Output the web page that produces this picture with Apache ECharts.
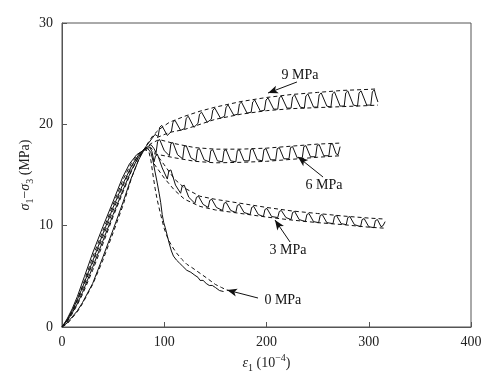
<!DOCTYPE html>
<html>
<head>
<meta charset="utf-8">
<script src="https://cdn.jsdelivr.net/npm/echarts@6/dist/echarts.min.js"></script>
<style>html,body{margin:0;padding:0;background:#fff}#c{width:500px;height:389px}</style>
</head>
<body>
<div id="c"></div>
<script>
// ---- axis ticks ----
const xTicks = [0, 100, 200, 300, 400];
const yTicks = [0, 10, 20, 30];

// ---- 0 MPa ----
const solid0 = [[0,0],[5,0.8],[10,1.8],[15,3.0],[22,5.0],[30,7.3],[40,9.9],[50,12.4],[59,14.7],[66,16.1],[73,17.0],[79,17.4],[84,17.6],
  [87,17.2],[89,16.4],[91,15.3],[93,14.3],[95,13.2],[96.5,12.3],[98,11.1],[99.5,10.3],[101,9.8],[103,9.0],[105,8.2],[107,7.5],[109,7.0],[112,6.6],
  [115,6.3],[118,6.0],[122,5.6],[126,5.4],[130,5.1],[133,4.9],[135,4.6],[138,4.6],[141,4.3],[144,4.1],[147,4.1],[150,3.9],[154,3.6],[158,3.5]];
const dash0 = [[0,0],[5,0.7],[10,1.6],[15,2.7],[22,4.6],[30,6.9],[40,9.5],[50,12.1],[60,14.6],[68,16.2],[75,17.1],[81,17.5],[85,17.3],
  [87,16.4],[89,15.0],[91,13.7],[93,12.6],[96,11.3],[100,9.7],[104,8.6],[108,7.9],[112,7.3],[117,6.7],[122,6.2],[128,5.8],[135,5.3],[142,4.8],[150,4.2],[156,3.9],[162,3.6]];

// ---- 3 MPa ----
const solid3 = [[0,0],[5,0.7],[10,1.6],[15,2.7],[20,3.9],[30,6.5],[40,9.2],[50,11.8],[60,14.2],[68,15.9],[75,17.0],[81,17.6],[86,17.7],
  [88,17.3],[90,16.3],[91.5,16.9],[93.5,17.0],[98,15.7],[103,14.6],[104.5,15.4],[106.5,15.5],[111,14.0],[116,13.2],
  [117.5,13.9],[119.5,14.0],[124,12.8],[130,12.2],[131.5,12.8],[133.5,12.9],[138,12.1],[143,11.8],
  [144.5,12.5],[146.5,12.6],[151,11.8],[157,11.5],[158.5,12.2],[160.5,12.3],[165,11.5],[170,11.3],
  [171.5,12.0],[173.5,12.1],[178,11.3],[184,11.1],[185.5,11.8],[187.5,11.9],[192,11.1],[197,10.9],
  [198.5,11.6],[200.5,11.7],[205,10.9],[211,10.8],[212.5,11.4],[214.5,11.5],[219,10.8],[224,10.6],
  [225.5,11.3],[227.5,11.4],[232,10.6],[238,10.4],[239.5,11.1],[241.5,11.2],[246,10.4],[251,10.3],
  [252.5,11.0],[254.5,11.1],[259,10.3],[265,10.2],[266.5,10.9],[268.5,11.0],[273,10.2],[278,10.1],
  [279.5,10.8],[281.5,10.9],[286,10.1],[292,9.9],[293.5,10.6],[295.5,10.7],[300,9.9],[305,9.8],
  [306.5,10.5],[308.5,10.6],[312,9.9],[314,10.0],[316,10.4]];
const dashUp3 = [[0,0],[5,0.6],[10,1.5],[15,2.5],[20,3.7],[30,6.3],[40,8.9],[50,11.5],[60,14.0],[68,15.8],[75,17.0],[81,17.6],[86,17.8],
  [92,17.1],[100,16.0],[110,14.6],[120,13.7],[135,12.9],[150,12.6],[175,12.2],[200,11.8],[225,11.45],[250,11.2],[275,10.95],[300,10.75],[316,10.65]];
const dashLo3 = [[90,16.1],[100,14.7],[110,13.5],[120,12.6],[135,11.9],[150,11.55],[175,11.2],[200,10.85],[225,10.55],[250,10.3],[275,10.1],[300,9.85],[316,9.75]];

// ---- 6 MPa ----
const solid6 = [[0,0],[5,0.6],[10,1.4],[15,2.3],[20,3.4],[30,5.9],[40,8.5],[50,11.1],[60,13.6],[68,15.5],[75,16.8],[81,17.6],[87,18.0],
  [90,17.6],[92,17.2],[93.5,18.3],[95.5,18.5],[100,17.4],[105,16.9],[106.5,18.1],[108.5,18.2],[113,17.0],[118,16.6],
  [119.5,17.8],[121.5,17.9],[126,16.7],[131,16.4],[132.5,17.5],[134.5,17.6],[139,16.5],[144,16.3],
  [145.5,17.4],[147.5,17.5],[152,16.4],[157,16.3],[158.5,17.4],[160.5,17.5],[165,16.4],[170,16.3],
  [171.5,17.4],[173.5,17.5],[178,16.4],[183,16.4],[184.5,17.5],[186.5,17.6],[191,16.5],[196,16.4],
  [197.5,17.5],[199.5,17.6],[204,16.5],[209,16.5],[210.5,17.6],[212.5,17.7],[217,16.6],[222,16.6],
  [223.5,17.7],[225.5,17.8],[230,16.7],[235,16.7],[236.5,17.8],[238.5,17.9],[243,16.8],[248,16.8],
  [249.5,17.9],[251.5,18.0],[256,16.9],[261,16.9],[262.5,18.0],[264.5,18.1],[268,17.1],[270,17.0],[272,17.8]];
const dashUp6 = [[0,0],[5,0.5],[10,1.3],[15,2.2],[20,3.2],[30,5.6],[40,8.2],[50,10.9],[60,13.4],[68,15.4],[75,16.8],[81,17.6],[87,18.1],
  [95,18.5],[110,18.1],[130,17.7],[150,17.55],[175,17.55],[200,17.65],[225,17.85],[250,18.05],[272,18.15]];
const dashLo6 = [[90,17.1],[110,16.7],[130,16.35],[150,16.2],[175,16.25],[200,16.35],[225,16.55],[250,16.75],[272,16.9]];

// ---- 9 MPa ----
const solid9 = [[0,0],[5,0.4],[10,1.0],[15,1.6],[20,2.4],[30,4.3],[40,6.9],[50,9.6],[60,12.4],[67,14.5],[75,16.5],[82,17.8],[88,18.6],[91,19.0],
  [94,18.8],[95.5,19.7],[97.5,19.9],[103,18.9],[107,19.3],[108.5,20.2],[110.5,20.4],[116,19.4],
  [120,19.6],[121.5,20.6],[123.5,20.8],[129,19.7],[133,20.1],[134.5,21.0],[136.5,21.2],[142,20.2],
  [146,20.5],[147.5,21.4],[149.5,21.6],[155,20.6],[159,20.8],[160.5,21.7],[162.5,21.9],[168,20.9],
  [172,21.0],[173.5,22.0],[175.5,22.2],[181,21.1],[185,21.2],[186.5,22.2],[188.5,22.4],[194,21.3],
  [198,21.4],[199.5,22.4],[201.5,22.6],[207,21.5],[211,21.5],[212.5,22.6],[214.5,22.8],[220,21.6],
  [224,21.6],[225.5,22.7],[227.5,22.9],[233,21.7],[237,21.6],[238.5,22.8],[240.5,23.0],[246,21.7],
  [250,21.7],[251.5,22.9],[253.5,23.1],[259,21.8],[263,21.7],[264.5,23.0],[266.5,23.2],[272,21.8],
  [276,21.8],[277.5,23.1],[279.5,23.3],[285,21.9],[289,21.8],[290.5,23.1],[292.5,23.3],[298,21.9],
  [302,21.9],[303.5,23.2],[305.5,23.4],[307,22.8],[309,22.2]];
const dashUp9 = [[0,0],[5,0.3],[10,0.9],[15,1.5],[20,2.3],[30,4.2],[40,6.6],[50,9.3],[60,12.1],[68,14.7],[76,16.8],[83,18.0],[89,18.9],[95,19.5],
  [105,20.2],[120,20.8],[135,21.3],[150,21.7],[175,22.25],[200,22.65],[225,22.95],[250,23.15],[275,23.35],[300,23.45],[309,23.5]];
const dashLo9 = [[93,18.7],[105,19.2],[120,19.5],[135,20.0],[150,20.5],[175,21.0],[200,21.35],[225,21.55],[250,21.65],[275,21.75],[300,21.85],[309,21.9]];

// ---- labels ----
const labelNames = ['0 MPa', '3 MPa', '6 MPa', '9 MPa'];

const FONT = 'Liberation Serif';
const INK = '#111';

function solid(data, extra) {
  return Object.assign({ type: 'line', data: data, symbol: 'none', smooth: false, silent: true,
    lineStyle: { color: INK, width: 1 }, z: 3 }, extra || {});
}
function dashed(data) {
  return { type: 'line', data: data, symbol: 'none', smooth: false, silent: true,
    lineStyle: { color: INK, width: 1, type: [4, 3] }, z: 2 };
}
function annot(text, textAt, from, to) {
  return {
    markLine: { silent: true, animation: false, symbol: ['none', 'arrow'], symbolSize: [6, 10],
      lineStyle: { color: INK, width: 1, type: 'solid' }, label: { show: false },
      data: [[{ coord: from }, { coord: to }]] },
    markPoint: { silent: true, animation: false, symbol: 'circle', symbolSize: 0,
      label: { show: true, position: 'inside', formatter: text, color: INK, fontFamily: FONT, fontSize: 14 },
      data: [{ coord: textAt }] }
  };
}

const chart = echarts.init(document.getElementById('c'), null, { renderer: 'canvas' });
chart.setOption({
  animation: false,
  backgroundColor: '#fff',
  grid: { left: 62, right: 29, top: 23, bottom: 62, show: true, borderColor: '#555', borderWidth: 1, backgroundColor: 'transparent' },
  xAxis: {
    type: 'value', min: xTicks[0], max: xTicks[xTicks.length - 1], interval: xTicks[1] - xTicks[0],
    axisLine: { lineStyle: { color: '#555', width: 1 } },
    axisTick: { inside: true, length: 5, lineStyle: { color: '#555' } },
    splitLine: { show: false },
    axisLabel: { margin: 8, fontFamily: FONT, fontSize: 14, color: '#222' },
    name: '{i|ε}{sub|1}{n| (10}{sup|−4}{n|)}',
    nameLocation: 'middle', nameGap: 26, nameMoveOverlap: false,
    nameTextStyle: { fontFamily: FONT, fontSize: 14, color: '#222',
      rich: {
        i: { fontFamily: FONT, fontStyle: 'italic', fontSize: 14, color: '#222', lineHeight: 20 },
        n: { fontFamily: FONT, fontSize: 14, color: '#222', lineHeight: 20 },
        sub: { fontFamily: FONT, fontSize: 10, color: '#222', verticalAlign: 'bottom', lineHeight: 20 },
        sup: { fontFamily: FONT, fontSize: 10, color: '#222', verticalAlign: 'top', lineHeight: 20 }
      } }
  },
  yAxis: {
    type: 'value', min: yTicks[0], max: yTicks[yTicks.length - 1], interval: yTicks[1] - yTicks[0],
    axisLine: { show: true, lineStyle: { color: '#555', width: 1 } },
    axisTick: { show: true, inside: true, length: 5, lineStyle: { color: '#555' } },
    splitLine: { show: false },
    axisLabel: { margin: 9, fontFamily: FONT, fontSize: 14, color: '#222' },
    name: '{i|σ}{sub|1}{n|−}{i|σ}{sub|3}{n| (MPa)}',
    nameLocation: 'middle', nameGap: 27, nameMoveOverlap: false,
    nameTextStyle: { fontFamily: FONT, fontSize: 14, color: '#222',
      rich: {
        i: { fontFamily: FONT, fontStyle: 'italic', fontSize: 14, color: '#222', lineHeight: 20 },
        n: { fontFamily: FONT, fontSize: 14, color: '#222', lineHeight: 20 },
        sub: { fontFamily: FONT, fontSize: 10, color: '#222', verticalAlign: 'bottom', lineHeight: 20 }
      } }
  },
  series: [
    solid(solid0, annot(labelNames[0], [216, 2.66], [191.7, 2.86], [161.4, 3.65])),
    dashed(dash0),
    solid(solid3, annot(labelNames[1], [221, 7.6], [223, 8.39], [208.3, 10.56])),
    dashed(dashUp3), dashed(dashLo3),
    solid(solid6, annot(labelNames[2], [256.2, 14.0], [255.3, 14.8], [230.8, 16.78])),
    dashed(dashUp6), dashed(dashLo6),
    solid(solid9, annot(labelNames[3], [232.8, 24.87], [229.8, 24.18], [201.5, 23.09])),
    dashed(dashUp9), dashed(dashLo9)
  ]
});
</script>
</body>
</html>
